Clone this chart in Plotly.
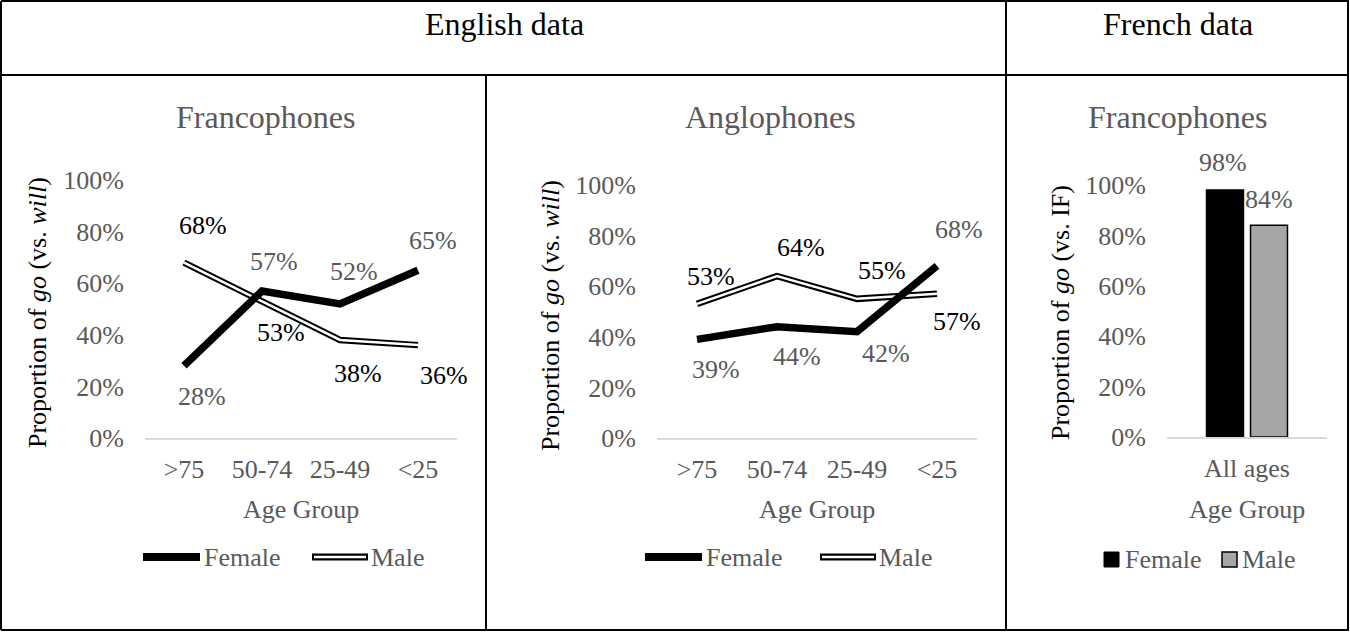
import plotly.graph_objects as go

# ---------------- data ----------------
age_groups = [">75", "50-74", "25-49", "<25"]
franco_female = [28, 57, 52, 65]
franco_male = [68, 53, 38, 36]
anglo_female = [39, 44, 42, 68]
anglo_male = [53, 64, 55, 57]
all_ages = ["All ages"]
french_female = [98]
french_male = [84]
y_ticks = [0, 20, 40, 60, 80, 100]
y_tick_labels = ["0%", "20%", "40%", "60%", "80%", "100%"]

# ---------------- layout helpers ----------------
W, H = 1350, 632
def px(x):
    return x / W
def py(y):
    return 1 - y / H

GREY = "#595959"
FONT = "Liberation Serif, Times New Roman, serif"
FS = 26

fig = go.Figure()

# ---- line panels ----
def add_lines(xa, ya, female, male):
    fig.add_trace(go.Scatter(x=age_groups, y=male, mode="lines", xaxis=xa, yaxis=ya,
                             line=dict(color="black", width=6.5), hoverinfo="skip", showlegend=False))
    fig.add_trace(go.Scatter(x=age_groups, y=male, mode="lines", xaxis=xa, yaxis=ya,
                             line=dict(color="white", width=2.5), hoverinfo="skip", showlegend=False))
    fig.add_trace(go.Scatter(x=age_groups, y=female, mode="lines", xaxis=xa, yaxis=ya,
                             line=dict(color="black", width=7.5), hoverinfo="skip", showlegend=False))

add_lines("x", "y", franco_female, franco_male)
add_lines("x2", "y2", anglo_female, anglo_male)

# ---- bar panel ----
fig.add_trace(go.Bar(x=all_ages, y=french_female, xaxis="x3", yaxis="y3", name="Female",
                     marker=dict(color="black", line=dict(color="black", width=1.5)),
                     hoverinfo="skip", showlegend=False))
fig.add_trace(go.Bar(x=all_ages, y=french_male, xaxis="x3", yaxis="y3", name="Male",
                     marker=dict(color="#A6A6A6", line=dict(color="black", width=1.5)),
                     hoverinfo="skip", showlegend=False))

annotations = []
shapes = []

# ---- data labels (offsets in pixels: dx right, dy down) ----
def add_labels(xa, ya, cats, vals, offsets, color):
    for c, v, (dx, dy) in zip(cats, vals, offsets):
        annotations.append(dict(x=c, y=v, xref=xa, yref=ya, text=f"{v}%", showarrow=False,
                                xshift=dx, yshift=-dy, font=dict(size=FS, color=color, family=FONT)))

add_labels("x", "y", age_groups, franco_female, [(18, 31), (12, -29), (14, -32), (15, -30)], GREY)
add_labels("x", "y", age_groups, franco_male, [(19, -37), (19, 31), (18, 34), (26, 30)], "black")
add_labels("x2", "y2", age_groups, anglo_female, [(19, 30), (20, 30), (29, 22), (22, -36)], GREY)
add_labels("x2", "y2", age_groups, anglo_male, [(14, -27), (24, -29), (25, -28), (20, 28)], "black")
add_labels("x3", "y3", all_ages, french_female, [(-24, -28)], GREY)
add_labels("x3", "y3", all_ages, french_male, [(22, -26)], GREY)

# ---- text in paper coords ----
def text(x, y, t, size=FS, color=GREY, angle=0, xanchor="center"):
    annotations.append(dict(x=px(x), y=py(y), xref="paper", yref="paper", text=t, showarrow=False,
                            xanchor=xanchor, yanchor="middle", textangle=angle,
                            font=dict(size=size, color=color, family=FONT)))

text(504, 24, "English data", size=32, color="black")
text(1178, 24, "French data", size=32, color="black")
text(266, 117, "Francophones", size=32)
text(770, 117, "Anglophones", size=32)
text(1178, 117, "Francophones", size=32)
text(37, 313, "Proportion of <i>go</i> (vs. <i>will</i>)", color="black", angle=-90)
text(550, 316, "Proportion of <i>go</i> (vs. <i>will</i>)", color="black", angle=-90)
text(1060, 313, "Proportion of <i>go</i> (vs. IF)", color="black", angle=-90)
text(301, 509, "Age Group")
text(817, 509, "Age Group")
text(1247, 509, "Age Group")

# ---- legends (drawn) ----
def hline(x0, x1, y, color, width):
    shapes.append(dict(type="line", xref="paper", yref="paper", x0=px(x0), x1=px(x1),
                       y0=py(y), y1=py(y), line=dict(color=color, width=width)))

for off_f, off_m in [(0, 0), (502, 508)]:
    hline(143 + off_f, 200 + off_f, 557, "black", 8)
    text(202 + off_f, 557, "Female", xanchor="left")
    hline(312 + off_m, 368 + off_m, 557, "black", 7)
    hline(314 + off_m, 366 + off_m, 557, "white", 2.5)
    text(369 + off_m, 557, "Male", xanchor="left")

shapes.append(dict(type="rect", xref="paper", yref="paper", x0=px(1104), x1=px(1119),
                   y0=py(567), y1=py(552), fillcolor="black", line=dict(color="black", width=1)))
text(1123, 559, "Female", xanchor="left")
shapes.append(dict(type="rect", xref="paper", yref="paper", x0=px(1222), x1=px(1237),
                   y0=py(567), y1=py(552), fillcolor="#A6A6A6", line=dict(color="black", width=1.5)))
text(1240, 559, "Male", xanchor="left")

# ---- table borders ----
def seg(x0, y0, x1, y1, w=2):
    shapes.append(dict(type="line", xref="paper", yref="paper", x0=px(x0), x1=px(x1),
                       y0=py(y0), y1=py(y1), line=dict(color="black", width=w)))

seg(1, 1, 1349, 1)
seg(1, 630, 1349, 630)
seg(1, 1, 1, 630)
seg(1348, 1, 1348, 630)
seg(1, 75, 1349, 75)
seg(486, 75, 486, 630)
seg(1006, 1, 1006, 630)

# ---- axes ----
def xaxis(d0, d1, anchor, n):
    return dict(domain=[px(d0), px(d1)], anchor=anchor, showline=True, linecolor="#D9D9D9",
                linewidth=1.5, showgrid=False, zeroline=False, ticks="", type="category",
                range=[-0.5, n - 0.5],
                tickfont=dict(size=FS, color=GREY, family=FONT), ticklabelstandoff=7,
                automargin=False, fixedrange=True)

def yaxis(top, bottom, anchor):
    return dict(domain=[py(bottom), py(top)], anchor=anchor, range=[0, 100],
                tickmode="array", tickvals=y_ticks, ticktext=y_tick_labels,
                showline=False, showgrid=False, zeroline=False, ticks="",
                tickfont=dict(size=FS, color=GREY, family=FONT), ticklabelstandoff=20,
                automargin=False, fixedrange=True)

fig.update_layout(
    template="none",
    width=W, height=H, autosize=False,
    margin=dict(l=0, r=0, t=0, b=0, pad=0),
    paper_bgcolor="white", plot_bgcolor="white",
    font=dict(family=FONT, size=FS, color=GREY),
    barmode="group", bargap=0.45, bargroupgap=0.16,
    xaxis=xaxis(145, 457, "y", len(age_groups)), yaxis=yaxis(180, 438, "x"),
    xaxis2=xaxis(657, 977, "y2", len(age_groups)), yaxis2=yaxis(185, 438, "x2"),
    xaxis3=xaxis(1167, 1327, "y3", len(all_ages)), yaxis3=yaxis(185, 437, "x3"),
    annotations=annotations, shapes=shapes,
    showlegend=False,
)

fig.write_html("out.html", config={"displayModeBar": False, "staticPlot": True},
               post_script="document.body.style.margin='0';")
